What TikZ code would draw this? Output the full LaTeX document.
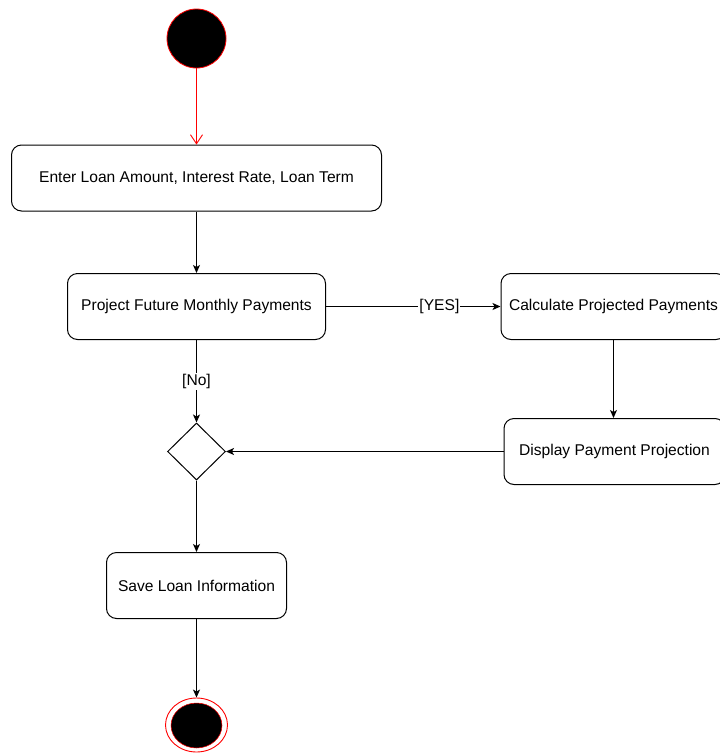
\documentclass[tikz,border=0pt]{standalone}
\usepackage{fontspec}
\setmainfont{Liberation Sans}
\usetikzlibrary{arrows.meta,shapes.geometric}
\begin{document}
\begin{tikzpicture}[x=1pt,y=-1pt,
  font=\fontsize{15.6}{18}\selectfont,
  action/.style={draw, line width=1pt, rounded corners=10pt, fill=white,
    minimum height=66pt, inner sep=0pt},
  flow/.style={draw, line width=1pt, -{Stealth[length=8pt,width=7pt,inset=2pt]}},
  guard/.style={fill=white, inner sep=1pt}]
\clip (0,0) rectangle (720,753);
\fill[white] (0,0) rectangle (720,753);

% initial node
\node[ellipse, draw=red, line width=0.8pt, fill=black, minimum width=59pt, minimum height=59pt, inner sep=0pt] (start) at (196.5,38.5) {};

% actions
\node[action, minimum width=370pt] (enter) at (196.5,178) {Enter Loan Amount, Interest Rate, Loan Term};
\node[action, minimum width=258pt] (project) at (196.5,306.5) {Project Future Monthly Payments};
\node[action, minimum width=225pt] (calc) at (613.5,306.5) {Calculate Projected Payments};
\node[action, minimum width=221pt] (display) at (614.5,451.5) {Display Payment Projection};
\node[action, minimum width=180pt] (save) at (196.5,585.5) {Save Loan Information};

% merge node
\node[diamond, draw, line width=1pt, fill=white, minimum width=58pt, minimum height=57pt, inner sep=0pt, aspect=1] (merge) at (196.5,451.5) {};

% final node
\node[ellipse, draw=red, line width=0.9pt, fill=white, minimum width=62pt, minimum height=54pt, inner sep=0pt] (final) at (196.5,725) {};
\node[ellipse, draw=red, line width=0.5pt, fill=black, minimum width=51pt, minimum height=45pt, inner sep=0pt] (finalcore) at (196.5,725.5) {};

% transitions
\draw[red, line width=0.9pt, -{Straight Barb[length=9pt,width=12pt]}] (start) -- (enter);
\draw[flow] (enter) -- (project);
\draw[flow] (project) -- node[guard, pos=0.65] {[YES]} (calc);
\draw[flow] (calc.south) -- (calc.south |- display.north);
\draw[flow] (project) -- node[guard] {[No]} (merge);
\draw[flow] (display) -- (merge);
\draw[flow] (merge) -- (save);
\draw[flow] (save) -- (final);
\end{tikzpicture}
\end{document}
